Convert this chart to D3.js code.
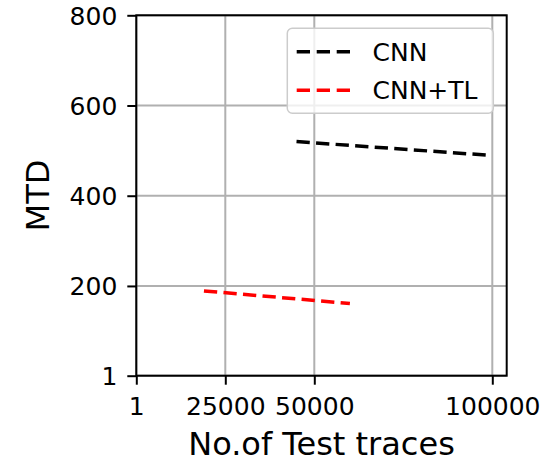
<!DOCTYPE html>
<html>
<head>
<meta charset="utf-8">
<script src="https://cdn.jsdelivr.net/npm/d3@7"></script>
<style>
  html, body { margin: 0; padding: 0; background: #fff; }
  svg { display: block; font-family: "DejaVu Sans", sans-serif; }
</style>
</head>
<body>
<svg id="chart" width="549" height="463"></svg>
<script>
// ---- data ----
const seriesNames = ["CNN", "CNN+TL"];
const seriesColors = ["#000000", "#ff0000"];
const cnnX = [45000, 98500];
const cnnY = [520, 490];
const cnnTlX = [19000, 60000];
const cnnTlY = [189, 161];
const xTickValues = [1, 25000, 50000, 100000];
const yTickValues = [1, 200, 400, 600, 800];
const xLabel = "No.of Test traces";
const yLabel = "MTD";

const series = [
  { name: seriesNames[0], color: seriesColors[0], pts: cnnX.map((x, i) => [x, cnnY[i]]) },
  { name: seriesNames[1], color: seriesColors[1], pts: cnnTlX.map((x, i) => [x, cnnTlY[i]]) }
];

// ---- layout ----
const L = 136.3, R = 506.7, T = 15.3, B = 375.7;
const svg = d3.select("#chart");

const x = d3.scaleLinear().domain([1, 104045]).range([L, R]);
const y = d3.scaleLinear().domain([1, 800]).range([B, T]);

// grid
const grid = svg.append("g");
grid.selectAll("line.gx").data(xTickValues).join("line")
  .attr("x1", d => x(d)).attr("x2", d => x(d))
  .attr("y1", T).attr("y2", B)
  .attr("stroke", "#b0b0b0").attr("stroke-width", 2);
grid.selectAll("line.gy").data(yTickValues).join("line")
  .attr("x1", L).attr("x2", R)
  .attr("y1", d => y(d)).attr("y2", d => y(d))
  .attr("stroke", "#b0b0b0").attr("stroke-width", 2);

// lines
const line = d3.line().x(d => x(d[0])).y(d => y(d[1]));
svg.append("g").selectAll("path").data(series).join("path")
  .attr("d", d => line(d.pts))
  .attr("fill", "none")
  .attr("stroke", d => d.color)
  .attr("stroke-width", 3.5)
  .attr("stroke-dasharray", "13.3,6.3");

// axes
const xAxis = d3.axisBottom(x).tickValues(xTickValues).tickFormat(d3.format("d")).tickSize(9).tickPadding(5);
const yAxis = d3.axisLeft(y).tickValues(yTickValues).tickFormat(d3.format("d")).tickSize(9).tickPadding(10);

const gx = svg.append("g").attr("transform", `translate(0,${B})`).call(xAxis);
const gy = svg.append("g").attr("transform", `translate(${L},0)`).call(yAxis);
[gx, gy].forEach(g => {
  g.select(".domain").remove();
  g.selectAll(".tick line").attr("stroke", "#000").attr("stroke-width", 2);
  g.selectAll(".tick text").attr("fill", "#000")
    .style("font-family", "'DejaVu Sans', sans-serif").style("font-size", "25px");
});
gx.selectAll(".tick text").attr("dy", null).attr("y", 39.5);
gy.selectAll(".tick text").attr("dy", "0.36em");

// frame
svg.append("rect").attr("x", L).attr("y", T).attr("width", R - L).attr("height", B - T)
  .attr("fill", "none").attr("stroke", "#000").attr("stroke-width", 2);

// axis labels
svg.append("text").attr("x", (L + R) / 2).attr("y", 455)
  .attr("text-anchor", "middle").attr("font-size", 32).attr("fill", "#000").text(xLabel);
svg.append("text")
  .attr("transform", `translate(49,${(T + B) / 2}) rotate(-90)`)
  .attr("text-anchor", "middle").attr("font-size", 32).attr("fill", "#000").text(yLabel);

// legend
const lg = svg.append("g");
lg.append("rect").attr("x", 287.3).attr("y", 28.3).attr("width", 206).attr("height", 85)
  .attr("rx", 5).attr("ry", 5)
  .attr("fill", "#ffffff").attr("fill-opacity", 0.8)
  .attr("stroke", "#cccccc").attr("stroke-width", 1.5);
const items = lg.selectAll("g.item").data(series).join("g")
  .attr("transform", (d, i) => `translate(0,${51.7 + i * 38.5})`);
items.append("line").attr("x1", 296.7).attr("x2", 350).attr("y1", 0).attr("y2", 0)
  .attr("stroke", d => d.color).attr("stroke-width", 3.5).attr("stroke-dasharray", "13.3,6.7");
items.append("text").attr("x", 372.5).attr("y", 9).attr("font-size", 25).attr("fill", "#000")
  .text(d => d.name);
</script>
</body>
</html>
